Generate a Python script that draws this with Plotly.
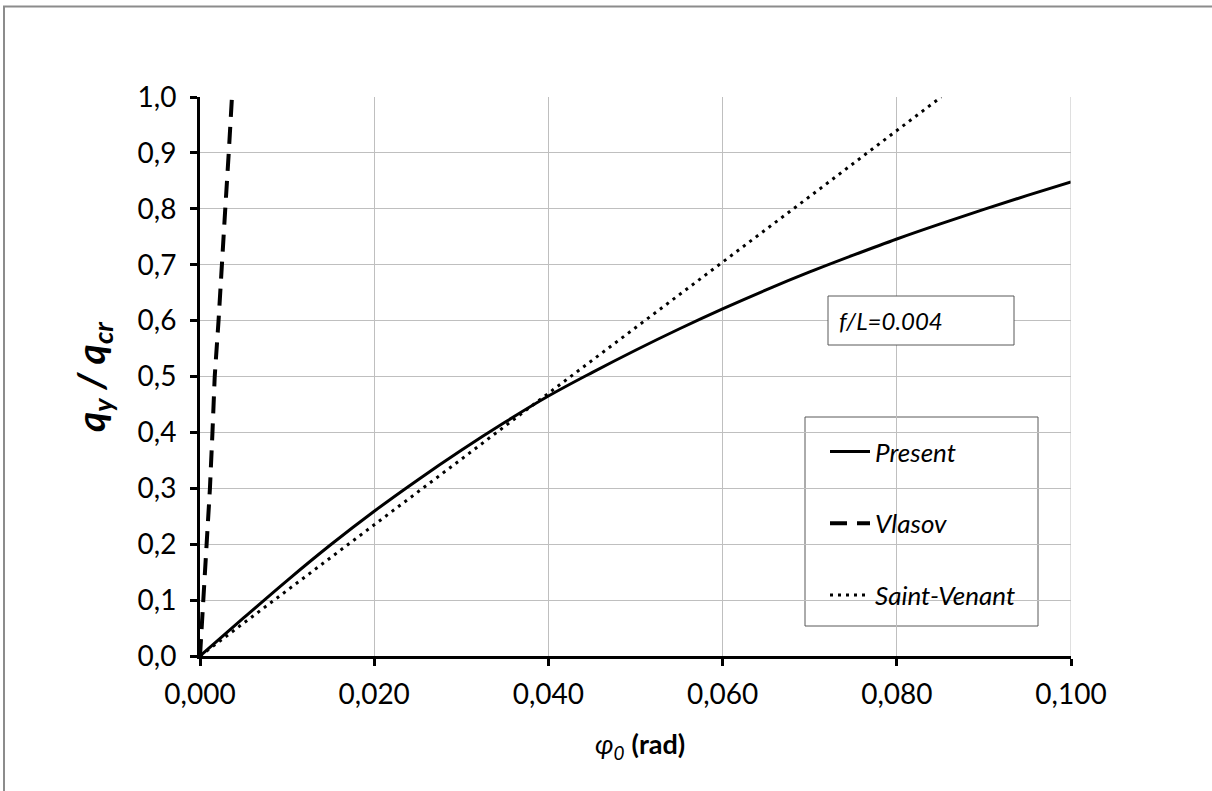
import plotly.graph_objects as go

# ---- data ----
present_x = [0.000, 0.005, 0.010, 0.015, 0.020, 0.025, 0.030, 0.035, 0.040, 0.045,
             0.050, 0.055, 0.060, 0.065, 0.070, 0.075, 0.080, 0.085, 0.090, 0.095, 0.100]
present_y = [0.000, 0.068, 0.135, 0.199, 0.259, 0.315, 0.368, 0.418, 0.465, 0.507,
             0.547, 0.585, 0.621, 0.655, 0.687, 0.717, 0.746, 0.773, 0.799, 0.824, 0.848]

vlasov_x = [0.0000, 0.00040, 0.00084, 0.00114, 0.00143, 0.00169, 0.00213, 0.00246, 0.00290, 0.00330, 0.00367]
vlasov_y = [0.00, 0.10, 0.20, 0.30, 0.40, 0.50, 0.60, 0.70, 0.80, 0.90, 1.00]

sv_x = [0.000, 0.010, 0.020, 0.030, 0.040, 0.050, 0.060, 0.070, 0.080, 0.0851]
sv_y = [0.000, 0.117, 0.235, 0.352, 0.470, 0.587, 0.705, 0.822, 0.940, 1.000]

x_ticks = [0.00, 0.02, 0.04, 0.06, 0.08, 0.10]
x_tick_labels = ["0,000", "0,020", "0,040", "0,060", "0,080", "0,100"]
y_ticks = [0.0, 0.1, 0.2, 0.3, 0.4, 0.5, 0.6, 0.7, 0.8, 0.9, 1.0]
y_tick_labels = ["0,0", "0,1", "0,2", "0,3", "0,4", "0,5", "0,6", "0,7", "0,8", "0,9", "1,0"]

FONT = "Lato"

fig = go.Figure()
fig.add_trace(go.Scatter(x=present_x, y=present_y, mode="lines", name="<i>Present</i>",
                         legendgroup="a", line=dict(color="black", width=3, shape="spline")))
fig.add_trace(go.Scatter(x=vlasov_x, y=vlasov_y, mode="lines", name="<i>Vlasov</i>",
                         legendgroup="b", line=dict(color="black", width=4, dash="17px,10px")))
fig.add_trace(go.Scatter(x=sv_x, y=sv_y, mode="lines", name="<i>Saint-Venant</i>",
                         legendgroup="c", line=dict(color="black", width=3, dash="3px,5px")))

L, R, T, B = 200, 141, 97, 135
W, H = 1212, 791
pw, ph = W - L - R, H - T - B

def px(x):
    return (x - L) / pw

def py(y):
    return (H - B - y) / ph

fig.update_layout(
    width=W, height=H,
    margin=dict(l=L, r=R, t=T, b=B),
    paper_bgcolor="white", plot_bgcolor="white",
    font=dict(family=FONT, size=20, color="black"),
    showlegend=True,
    legend=dict(x=px(825), y=py(428), xanchor="left", yanchor="top",
                bgcolor="rgba(0,0,0,0)", borderwidth=0,
                font=dict(family=FONT, size=26, color="black"),
                tracegroupgap=35, itemwidth=40),
    xaxis=dict(range=[0, 0.1], tickvals=x_ticks, ticktext=x_tick_labels,
               showgrid=True, gridcolor="#BFBFBF", gridwidth=1,
               showline=True, linecolor="black", linewidth=3,
               ticks="outside", ticklen=7, tickwidth=3, tickcolor="black",
               tickfont=dict(family=FONT, size=28), zeroline=False,
               ticklabelstandoff=4),
    yaxis=dict(range=[0, 1.0], tickvals=y_ticks, ticktext=y_tick_labels,
               showgrid=True, gridcolor="#BFBFBF", gridwidth=1,
               showline=True, linecolor="black", linewidth=3,
               ticks="outside", ticklen=7, tickwidth=3, tickcolor="black",
               tickfont=dict(family=FONT, size=28), zeroline=False,
               ticklabelstandoff=8),
)

# right grid border line
fig.add_shape(type="line", xref="x", yref="paper", x0=0.1, x1=0.1, y0=0, y1=1,
              line=dict(color="#BFBFBF", width=1))

# outer chart frame (partly outside viewport like reference)
fig.add_shape(type="rect", xref="paper", yref="paper",
              x0=px(4), x1=px(1300), y0=py(900), y1=py(6.5),
              line=dict(color="#8C8C8C", width=2), layer="below")

# legend box
fig.add_shape(type="rect", xref="paper", yref="paper",
              x0=px(805), x1=px(1038), y0=py(626), y1=py(417),
              line=dict(color="#595959", width=1), fillcolor="white", layer="below")

# f/L box
fig.add_shape(type="rect", xref="paper", yref="paper",
              x0=px(828), x1=px(1014), y0=py(345), y1=py(296),
              line=dict(color="#595959", width=1), fillcolor="white", layer="above")
fig.add_annotation(xref="paper", yref="paper", x=px(837), y=py(320.5),
                   xanchor="left", yanchor="middle", showarrow=False,
                   text="<i>f/L=0.004</i>", font=dict(family=FONT, size=24))

# axis titles
fig.add_annotation(xref="paper", yref="paper", x=px(93), y=py(377),
                   xanchor="center", yanchor="middle", showarrow=False, textangle=-90,
                   text="<b><i>q<sub>y</sub> / q<sub>cr</sub></i></b>",
                   font=dict(family=FONT, size=39))
fig.add_annotation(xref="paper", yref="paper", x=px(640), y=py(745),
                   xanchor="center", yanchor="middle", showarrow=False,
                   text="<i>φ<sub>0</sub></i> <b>(rad)</b>",
                   font=dict(family=FONT, size=27))

fig.write_html("out.html")
